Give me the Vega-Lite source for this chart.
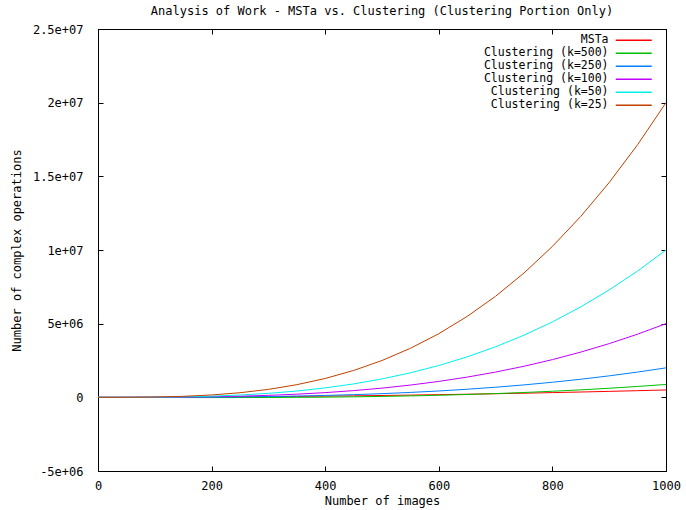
{
  "$schema": "https://vega.github.io/schema/vega-lite/v6.json",
  "width": 568,
  "height": 442,
  "autosize": {"type": "none"},
  "padding": {"left": 98, "top": 29, "right": 20, "bottom": 39},
  "background": "white",
  "title": {"text": "Analysis of Work - MSTa vs. Clustering (Clustering Portion Only)", "font": "DejaVu Sans Mono", "fontSize": 12, "fontWeight": "normal", "color": "black", "offset": 5},
  "config": {
    "view": {"stroke": "black", "strokeWidth": 1},
    "axis": {"grid": false, "labelFlush": false, "domainColor": "black", "domainWidth": 1, "tickColor": "black", "tickSize": -5, "tickWidth": 1, "labelFont": "DejaVu Sans Mono", "labelFontSize": 12, "labelColor": "black", "titleFont": "DejaVu Sans Mono", "titleFontSize": 12, "titleFontWeight": "normal", "titleColor": "black"}
  },
  "data": {"values": [
    {"n":0,"series":"MSTa","ops":0},{"n":50,"series":"MSTa","ops":1250},{"n":100,"series":"MSTa","ops":5000},{"n":150,"series":"MSTa","ops":11250},{"n":200,"series":"MSTa","ops":20000},{"n":250,"series":"MSTa","ops":31250},{"n":300,"series":"MSTa","ops":45000},{"n":350,"series":"MSTa","ops":61250},{"n":400,"series":"MSTa","ops":80000},{"n":450,"series":"MSTa","ops":101250},{"n":500,"series":"MSTa","ops":125000},{"n":550,"series":"MSTa","ops":151250},{"n":600,"series":"MSTa","ops":180000},{"n":650,"series":"MSTa","ops":211250},{"n":700,"series":"MSTa","ops":245000},{"n":750,"series":"MSTa","ops":281250},{"n":800,"series":"MSTa","ops":320000},{"n":850,"series":"MSTa","ops":361250},{"n":900,"series":"MSTa","ops":405000},{"n":950,"series":"MSTa","ops":451250},{"n":1000,"series":"MSTa","ops":500000},
    {"n":0,"series":"Clustering (k=500)","ops":0},{"n":50,"series":"Clustering (k=500)","ops":-6125},{"n":100,"series":"Clustering (k=500)","ops":-11500},{"n":150,"series":"Clustering (k=500)","ops":-15375},{"n":200,"series":"Clustering (k=500)","ops":-17000},{"n":250,"series":"Clustering (k=500)","ops":-15625},{"n":300,"series":"Clustering (k=500)","ops":-10500},{"n":350,"series":"Clustering (k=500)","ops":-875},{"n":400,"series":"Clustering (k=500)","ops":14000},{"n":450,"series":"Clustering (k=500)","ops":34875},{"n":500,"series":"Clustering (k=500)","ops":62500},{"n":550,"series":"Clustering (k=500)","ops":97625},{"n":600,"series":"Clustering (k=500)","ops":141000},{"n":650,"series":"Clustering (k=500)","ops":193375},{"n":700,"series":"Clustering (k=500)","ops":255500},{"n":750,"series":"Clustering (k=500)","ops":328125},{"n":800,"series":"Clustering (k=500)","ops":412000},{"n":850,"series":"Clustering (k=500)","ops":507875},{"n":900,"series":"Clustering (k=500)","ops":616500},{"n":950,"series":"Clustering (k=500)","ops":738625},{"n":1000,"series":"Clustering (k=500)","ops":875000},
    {"n":0,"series":"Clustering (k=250)","ops":0},{"n":50,"series":"Clustering (k=250)","ops":250},{"n":100,"series":"Clustering (k=250)","ops":2000},{"n":150,"series":"Clustering (k=250)","ops":6750},{"n":200,"series":"Clustering (k=250)","ops":16000},{"n":250,"series":"Clustering (k=250)","ops":31250},{"n":300,"series":"Clustering (k=250)","ops":54000},{"n":350,"series":"Clustering (k=250)","ops":85750},{"n":400,"series":"Clustering (k=250)","ops":128000},{"n":450,"series":"Clustering (k=250)","ops":182250},{"n":500,"series":"Clustering (k=250)","ops":250000},{"n":550,"series":"Clustering (k=250)","ops":332750},{"n":600,"series":"Clustering (k=250)","ops":432000},{"n":650,"series":"Clustering (k=250)","ops":549250},{"n":700,"series":"Clustering (k=250)","ops":686000},{"n":750,"series":"Clustering (k=250)","ops":843750},{"n":800,"series":"Clustering (k=250)","ops":1024000},{"n":850,"series":"Clustering (k=250)","ops":1228250},{"n":900,"series":"Clustering (k=250)","ops":1458000},{"n":950,"series":"Clustering (k=250)","ops":1714750},{"n":1000,"series":"Clustering (k=250)","ops":2000000},
    {"n":0,"series":"Clustering (k=100)","ops":0},{"n":50,"series":"Clustering (k=100)","ops":625},{"n":100,"series":"Clustering (k=100)","ops":5000},{"n":150,"series":"Clustering (k=100)","ops":16875},{"n":200,"series":"Clustering (k=100)","ops":40000},{"n":250,"series":"Clustering (k=100)","ops":78125},{"n":300,"series":"Clustering (k=100)","ops":135000},{"n":350,"series":"Clustering (k=100)","ops":214375},{"n":400,"series":"Clustering (k=100)","ops":320000},{"n":450,"series":"Clustering (k=100)","ops":455625},{"n":500,"series":"Clustering (k=100)","ops":625000},{"n":550,"series":"Clustering (k=100)","ops":831875},{"n":600,"series":"Clustering (k=100)","ops":1080000},{"n":650,"series":"Clustering (k=100)","ops":1373125},{"n":700,"series":"Clustering (k=100)","ops":1715000},{"n":750,"series":"Clustering (k=100)","ops":2109375},{"n":800,"series":"Clustering (k=100)","ops":2560000},{"n":850,"series":"Clustering (k=100)","ops":3070625},{"n":900,"series":"Clustering (k=100)","ops":3645000},{"n":950,"series":"Clustering (k=100)","ops":4286875},{"n":1000,"series":"Clustering (k=100)","ops":5000000},
    {"n":0,"series":"Clustering (k=50)","ops":0},{"n":50,"series":"Clustering (k=50)","ops":1250},{"n":100,"series":"Clustering (k=50)","ops":10000},{"n":150,"series":"Clustering (k=50)","ops":33750},{"n":200,"series":"Clustering (k=50)","ops":80000},{"n":250,"series":"Clustering (k=50)","ops":156250},{"n":300,"series":"Clustering (k=50)","ops":270000},{"n":350,"series":"Clustering (k=50)","ops":428750},{"n":400,"series":"Clustering (k=50)","ops":640000},{"n":450,"series":"Clustering (k=50)","ops":911250},{"n":500,"series":"Clustering (k=50)","ops":1250000},{"n":550,"series":"Clustering (k=50)","ops":1663750},{"n":600,"series":"Clustering (k=50)","ops":2160000},{"n":650,"series":"Clustering (k=50)","ops":2746250},{"n":700,"series":"Clustering (k=50)","ops":3430000},{"n":750,"series":"Clustering (k=50)","ops":4218750},{"n":800,"series":"Clustering (k=50)","ops":5120000},{"n":850,"series":"Clustering (k=50)","ops":6141250},{"n":900,"series":"Clustering (k=50)","ops":7290000},{"n":950,"series":"Clustering (k=50)","ops":8573750},{"n":1000,"series":"Clustering (k=50)","ops":10000000},
    {"n":0,"series":"Clustering (k=25)","ops":0},{"n":50,"series":"Clustering (k=25)","ops":2500},{"n":100,"series":"Clustering (k=25)","ops":20000},{"n":150,"series":"Clustering (k=25)","ops":67500},{"n":200,"series":"Clustering (k=25)","ops":160000},{"n":250,"series":"Clustering (k=25)","ops":312500},{"n":300,"series":"Clustering (k=25)","ops":540000},{"n":350,"series":"Clustering (k=25)","ops":857500},{"n":400,"series":"Clustering (k=25)","ops":1280000},{"n":450,"series":"Clustering (k=25)","ops":1822500},{"n":500,"series":"Clustering (k=25)","ops":2500000},{"n":550,"series":"Clustering (k=25)","ops":3327500},{"n":600,"series":"Clustering (k=25)","ops":4320000},{"n":650,"series":"Clustering (k=25)","ops":5492500},{"n":700,"series":"Clustering (k=25)","ops":6860000},{"n":750,"series":"Clustering (k=25)","ops":8437500},{"n":800,"series":"Clustering (k=25)","ops":10240000},{"n":850,"series":"Clustering (k=25)","ops":12282500},{"n":900,"series":"Clustering (k=25)","ops":14580000},{"n":950,"series":"Clustering (k=25)","ops":17147500},{"n":1000,"series":"Clustering (k=25)","ops":20000000}
  ]},
  "layer": [
    {
      "mark": {"type": "line", "strokeWidth": 1, "clip": true},
      "encoding": {
        "x": {"field": "n", "type": "quantitative", "scale": {"domain": [0, 1000], "nice": false}, "axis": {"values": [0, 200, 400, 600, 800, 1000], "format": "d", "title": "Number of images", "labelPadding": 14, "titlePadding": 4}},
        "y": {"field": "ops", "type": "quantitative", "scale": {"domain": [-5000000, 25000000], "nice": false, "zero": false}, "axis": {"values": [-5000000, 0, 5000000, 10000000, 15000000, 20000000, 25000000], "title": "Number of complex operations", "labelPadding": 20, "titlePadding": 9, "labelExpr": "datum.value == 25000000 ? '2.5e+07' : datum.value == 20000000 ? '2e+07' : datum.value == 15000000 ? '1.5e+07' : datum.value == 10000000 ? '1e+07' : datum.value == 5000000 ? '5e+06' : datum.value == 0 ? '0' : '-5e+06'"}},
        "color": {"field": "series", "type": "nominal", "sort": null, "scale": {"domain": ["MSTa", "Clustering (k=500)", "Clustering (k=250)", "Clustering (k=100)", "Clustering (k=50)", "Clustering (k=25)"], "range": ["#ff0000", "#00c000", "#0080ff", "#c000ff", "#00eeee", "#c04000"]},
          "legend": {"title": null, "orient": "none", "legendX": 530, "legendY": 5.5, "padding": 0, "rowPadding": 0, "symbolType": "M-4,0H4", "symbolSize": 81, "symbolStrokeWidth": 1.5, "labelAlign": "right", "labelOffset": -31, "labelFont": "DejaVu Sans Mono", "labelFontSize": 11.5, "labelColor": "black", "labelLimit": 400}}
      }
    },
    {
      "mark": {"type": "point", "opacity": 0},
      "encoding": {
        "x": {"field": "n", "type": "quantitative", "axis": {"orient": "top", "values": [0, 200, 400, 600, 800, 1000], "labels": false, "title": null}},
        "y": {"field": "ops", "type": "quantitative", "axis": {"orient": "right", "values": [-5000000, 0, 5000000, 10000000, 15000000, 20000000, 25000000], "labels": false, "title": null}}
      }
    }
  ],
  "resolve": {"axis": {"x": "independent", "y": "independent"}}
}
